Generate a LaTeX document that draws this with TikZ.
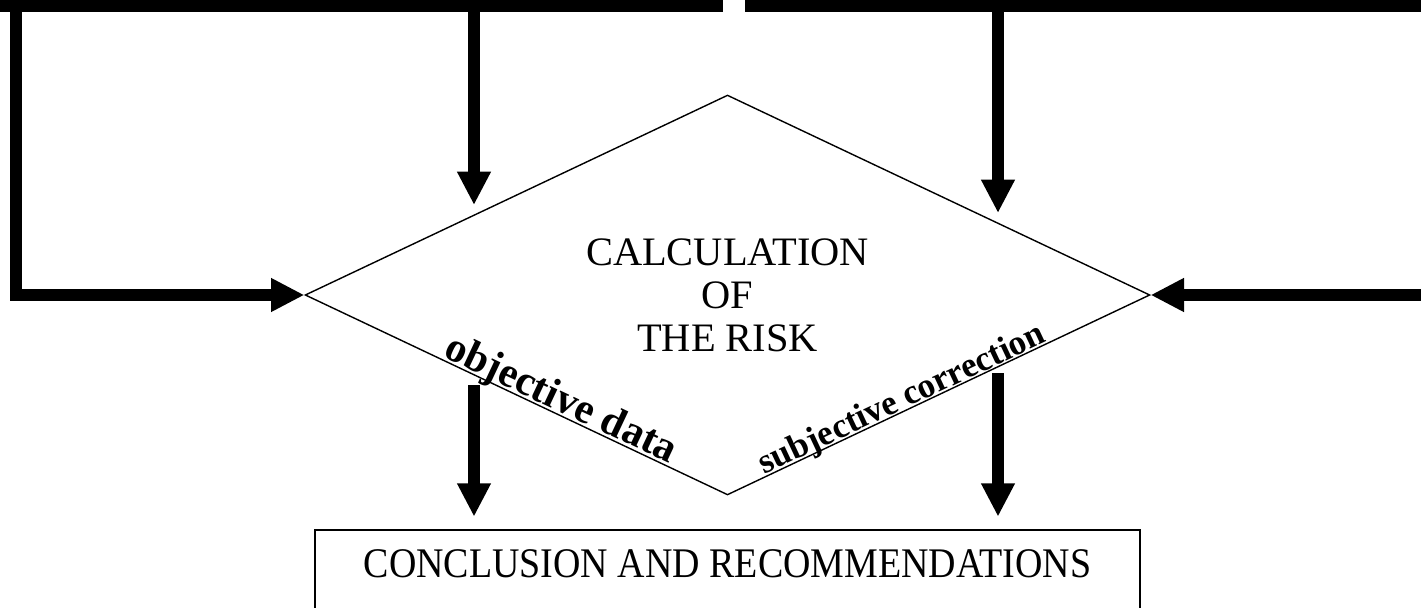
\documentclass[tikz,border=0pt]{standalone}
\usepackage{fontspec}
\setmainfont{Liberation Serif}
\usetikzlibrary{arrows.meta,positioning,shapes.geometric,calc}
\tikzset{
  bar/.style={line width=6.5pt, line cap=butt},
  arrow/.style={bar, line join=miter, -{Triangle[length=19pt, width=18pt]}},
  decision/.style={
    diamond, draw, line width=0.8pt, aspect=2.11,
    minimum width=16.9cm, minimum height=8cm, inner sep=0pt,
    align=center, font=\fontsize{23}{24.5}\selectfont
  },
  box/.style={
    draw, line width=1.2pt, minimum width=16.5cm,
    inner ysep=0.4cm, text depth=1.6cm
  },
  tag/.style={inner sep=0pt, anchor=base}
}

\begin{document}
\begin{tikzpicture}[x=0.02cm, y=-0.02cm]
    \useasboundingbox (0,0) rectangle (1421,608);
    \clip (0,0) rectangle (1421,608);

    \node[decision] (calc) at (727.5,295) {CALCULATION\\OF\\THE RISK};
    \node[box, below=0.66cm of calc] (concl)
      {\fontsize{24}{28}\selectfont\scalebox{0.9}[1]{CONCLUSION AND RECOMMENDATIONS}};

    \node[tag, rotate=-25.2, font=\bfseries\fontsize{24}{24}\selectfont] (objdata) at (556,410) {objective data};
    \node[tag, rotate=25.2, font=\bfseries\fontsize{20}{20}\selectfont] (subjcorr) at (906,408) {subjective correction};

    \coordinate (barL) at (0,6);
    \coordinate (barLend) at (723,6);
    \coordinate (barR) at (745,6);
    \coordinate (barRend) at (1421,6);
    \coordinate (feed) at (16,6);
    \coordinate (side) at (1421,295);
    \coordinate (inL) at (474,205);
    \coordinate (inR) at (998,213);
    \coordinate (outL) at (474,385);
    \coordinate (outR) at (998,373);

    \draw[bar] (barL) -- (barLend);
    \draw[bar] (barR) -- (barRend);
    \draw[arrow] (feed) |- (calc.west);
    \draw[arrow] (side) -- (calc.east);
    \draw[arrow] (inL |- barL) -- (inL);
    \draw[arrow] (inR |- barR) -- (inR);
    \draw[arrow, shorten >=0.24cm] (outL) -- (outL |- concl.north);
    \draw[arrow, shorten >=0.24cm] (outR) -- (outR |- concl.north);
\end{tikzpicture}
\end{document}
